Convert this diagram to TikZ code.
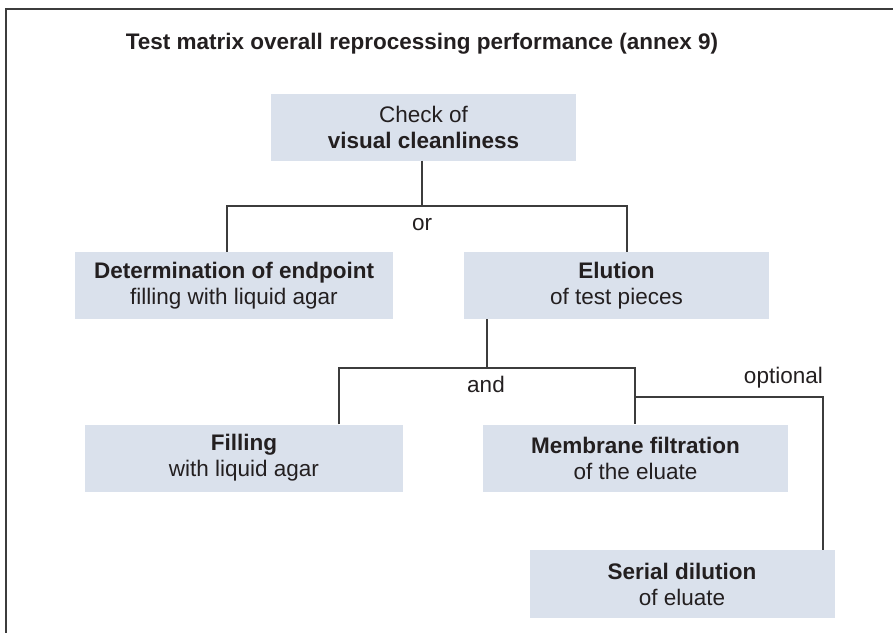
\documentclass[tikz,border=0pt]{standalone}
\usepackage{fontspec}
\setmainfont{Liberation Sans}
\usepackage{tikz}
\usetikzlibrary{positioning}
\definecolor{boxfill}{RGB}{218,225,236}
\definecolor{ink}{RGB}{35,31,32}
\definecolor{wire}{RGB}{60,60,60}
\tikzset{
	box/.style={fill=boxfill,align=center,inner sep=0pt,minimum width=305pt,minimum height=67pt,text=ink,font=\fontsize{22.5}{26}\selectfont},
	conn/.style={draw=wire,line width=1.3pt},
	lbl/.style={text=ink,inner sep=0pt,anchor=base,font=\fontsize{22.5}{26}\selectfont},
	headline/.style={text=ink,inner sep=0pt,anchor=base,font=\fontsize{22.5}{26}\selectfont\bfseries}
}
\begin{document}
\begin{tikzpicture}[x=1pt,y=-1pt]
            \useasboundingbox (0,0) rectangle (893,633);
            \draw[draw=wire,line width=1.4pt] (893,9) -- (6,9) -- (6,633);
            \node[headline] (head) at (422,49) {Test matrix overall reprocessing performance (annex 9)};
            \node[box] (chk) at (423.5,127) {Check of\\\textbf{visual cleanliness}};
            \node[box,minimum width=318pt] (det) at (234,285.5) {\textbf{Determination of endpoint}\\filling with liquid agar};
            \node[box] (elu) at (616.5,285.5) {\textbf{Elution}\\of test pieces};
            \node[box,minimum width=318pt] (fil) at (244,458) {\textbf{Filling}\\with liquid agar};
            \node[box] (mem) at (635.5,458) {\textbf{Membrane filtration}\\of the eluate};
            \node[box,minimum height=68pt] (ser) at (682,584) {\textbf{Serial dilution}\\of eluate};
            % branch points
            \node[coordinate] (orm) at (422,206) {};
            \node[coordinate] (orl) at (227,206) {};
            \node[coordinate] (orr) at (627,206) {};
            \node[coordinate] (andm) at (487,368) {};
            \node[coordinate] (andl) at (339,368) {};
            \node[coordinate] (andr) at (635,368) {};
            \node[coordinate] (opt) at (635,397) {};
            \node[coordinate] (optr) at (823,397) {};
            \draw[conn] (chk.south -| orm) -- (orm);
            \draw[conn] (det.north -| orl) -- (orl) -- (orr) -- (elu.north -| orr);
            \draw[conn] (elu.south -| andm) -- (andm);
            \draw[conn] (fil.north -| andl) -- (andl) -- (andr) -- (mem.north -| andr);
            \draw[conn] (opt) -- (optr) -- (ser.north -| optr);
            \node[lbl] (ortxt) at (422,230) {or};
            \node[lbl] (andtxt) at (486,392) {and};
            \node[lbl,anchor=base east] (opttxt) at (823,383) {optional};
        \end{tikzpicture}
\end{document}
